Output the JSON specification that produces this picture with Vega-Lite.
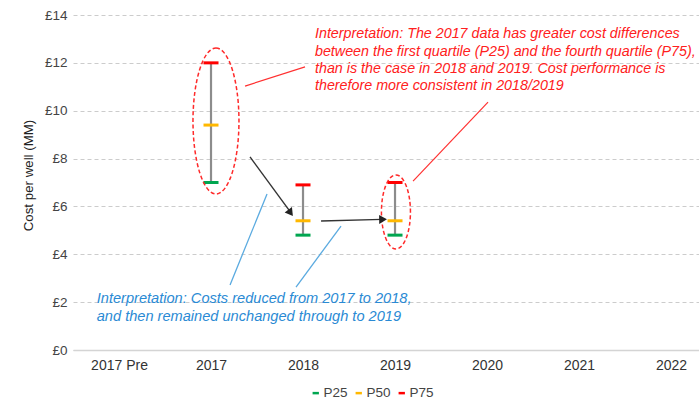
{
  "$schema": "https://vega.github.io/schema/vega-lite/v6.json",
  "autosize": "none",
  "width": 626,
  "height": 335,
  "padding": {"left": 73, "top": 15, "right": 0, "bottom": 60},
  "background": "white",
  "config": {
    "view": {"stroke": null},
    "font": "Liberation Sans"
  },
  "layer": [
    {
      "data": {"values": [
        {"idx": 1, "year": "2017", "P25": 7.0, "P50": 9.4, "P75": 12.0},
        {"idx": 2, "year": "2018", "P25": 4.8, "P50": 5.4, "P75": 6.9},
        {"idx": 3, "year": "2019", "P25": 4.8, "P50": 5.4, "P75": 7.0}
      ]},
      "mark": {"type": "rule", "color": "#8c8c8c", "strokeWidth": 2.2},
      "encoding": {
        "x": {"field": "idx", "type": "quantitative",
          "scale": {"domain": [-0.5, 6.304], "nice": false, "zero": false},
          "axis": {"values": [0, 1, 2, 3, 4, 5, 6],
            "labelExpr": "['2017 Pre','2017','2018','2019','2020','2021','2022'][datum.value]",
            "title": null, "grid": false, "ticks": false,
            "domainColor": "#d4d4d4", "domainWidth": 1.5,
            "labelFontSize": 14, "labelColor": "#333333", "labelPadding": 8,
            "labelFont": "Liberation Sans"}},
        "y": {"field": "P25", "type": "quantitative",
          "scale": {"domain": [0, 14], "nice": false, "zero": true},
          "axis": {"values": [0, 2, 4, 6, 8, 10, 12, 14],
            "labelExpr": "'£' + datum.value",
            "title": "Cost per well (MM)", "titleFontSize": 13.3, "titleFontWeight": "normal",
            "titleColor": "#222222", "titleFont": "Liberation Sans", "titleX": -38, "titleY": 160,
            "domain": false, "ticks": false,
            "grid": true, "gridColor": "#cccccc", "gridDash": [4, 3], "gridWidth": 1,
            "labelFontSize": 13.5, "labelColor": "#444444", "labelPadding": 6,
            "labelFont": "Liberation Sans"}},
        "y2": {"field": "P75"}
      }
    },
    {
      "data": {"values": [
        {"idx": 1, "year": "2017", "P25": 7.0, "P50": 9.4, "P75": 12.0},
        {"idx": 2, "year": "2018", "P25": 4.8, "P50": 5.4, "P75": 6.9},
        {"idx": 3, "year": "2019", "P25": 4.8, "P50": 5.4, "P75": 7.0}
      ]},
      "transform": [{"fold": ["P25", "P50", "P75"], "as": ["q", "v"]}],
      "mark": {"type": "rule", "strokeWidth": 3, "strokeCap": "butt", "xOffset": -7.5, "x2Offset": 7.5},
      "encoding": {
        "x": {"field": "idx", "type": "quantitative"},
        "x2": {"field": "idx"},
        "y": {"field": "v", "type": "quantitative"},
        "color": {"field": "q", "type": "nominal",
          "scale": {"domain": ["P25", "P50", "P75"], "range": ["#00a650", "#ffb800", "#ff0000"]},
          "legend": {"orient": "none", "legendX": 236, "legendY": 371, "direction": "horizontal",
            "title": null, "symbolType": "stroke", "symbolSize": 40, "symbolStrokeWidth": 2.5,
            "labelFontSize": 13.5, "labelColor": "#444444", "labelFont": "Liberation Sans",
            "columnPadding": 2, "labelOffset": 1}}
      }
    },
    {
      "data": {"values": [{"cx": 1.054, "cy": 9.57}]},
      "mark": {"type": "point", "filled": false, "color": "#ff2a2a", "strokeWidth": 1.5,
        "strokeDash": [4, 2.5], "opacity": 1, "size": 21316,
        "shape": "M0,-1A0.315,1,0,1,1,0,1A0.315,1,0,1,1,0,-1Z"},
      "encoding": {
        "x": {"field": "cx", "type": "quantitative"},
        "y": {"field": "cy", "type": "quantitative"}
      }
    },
    {
      "data": {"values": [{"cx": 3.01, "cy": 5.77}]},
      "mark": {"type": "point", "filled": false, "color": "#ff2a2a", "strokeWidth": 1.5,
        "strokeDash": [4, 2.5], "opacity": 1, "size": 5476,
        "shape": "M0,-1A0.392,1,0,1,1,0,1A0.392,1,0,1,1,0,-1Z"},
      "encoding": {
        "x": {"field": "cx", "type": "quantitative"},
        "y": {"field": "cy", "type": "quantitative"}
      }
    },
    {
      "data": {"values": [
        {"x1": 1.370, "y1": 11.03, "x2": 2.022, "y2": 11.83},
        {"x1": 3.196, "y1": 7.06, "x2": 4.011, "y2": 10.36}
      ]},
      "mark": {"type": "rule", "color": "#ff3030", "strokeWidth": 1.2},
      "encoding": {
        "x": {"field": "x1", "type": "quantitative"},
        "y": {"field": "y1", "type": "quantitative"},
        "x2": {"field": "x2"},
        "y2": {"field": "y2"}
      }
    },
    {
      "data": {"values": [
        {"x1": 1.609, "y1": 6.52, "x2": 1.207, "y2": 2.72},
        {"x1": 2.413, "y1": 5.18, "x2": 1.924, "y2": 2.63}
      ]},
      "mark": {"type": "rule", "color": "#5aaae0", "strokeWidth": 1.3},
      "encoding": {
        "x": {"field": "x1", "type": "quantitative"},
        "y": {"field": "y1", "type": "quantitative"},
        "x2": {"field": "x2"},
        "y2": {"field": "y2"}
      }
    },
    {
      "data": {"values": [
        {"x1": 1.424, "y1": 8.07, "x2": 1.86, "y2": 5.78},
        {"x1": 2.196, "y1": 5.39, "x2": 2.86, "y2": 5.46}
      ]},
      "mark": {"type": "rule", "color": "#333333", "strokeWidth": 1.4},
      "encoding": {
        "x": {"field": "x1", "type": "quantitative"},
        "y": {"field": "y1", "type": "quantitative"},
        "x2": {"field": "x2"},
        "y2": {"field": "y2"}
      }
    },
    {
      "data": {"values": [{"ax": 1.865, "ay": 5.73}]},
      "mark": {"type": "point", "shape": "triangle-up", "filled": true, "color": "#222222",
        "opacity": 1, "size": 81, "angle": 144},
      "encoding": {
        "x": {"field": "ax", "type": "quantitative"},
        "y": {"field": "ay", "type": "quantitative"}
      }
    },
    {
      "data": {"values": [{"ax": 2.870, "ay": 5.46}]},
      "mark": {"type": "point", "shape": "triangle-up", "filled": true, "color": "#222222",
        "opacity": 1, "size": 81, "angle": 89},
      "encoding": {
        "x": {"field": "ax", "type": "quantitative"},
        "y": {"field": "ay", "type": "quantitative"}
      }
    },
    {
      "data": {"values": [
        {"tx": 2.130, "ty": 13.03, "label": "Interpretation: The 2017 data has greater cost differences\nbetween the first quartile (P25) and the fourth quartile (P75),\nthan is the case in 2018 and 2019. Cost performance is\ntherefore more consistent in 2018/2019"}
      ]},
      "mark": {"type": "text", "align": "left", "baseline": "alphabetic", "lineBreak": "\n",
        "lineHeight": 17.3, "fontSize": 14.3, "fontStyle": "italic", "color": "#ff2020",
        "font": "Liberation Sans"},
      "encoding": {
        "x": {"field": "tx", "type": "quantitative"},
        "y": {"field": "ty", "type": "quantitative"},
        "text": {"field": "label", "type": "nominal"}
      }
    },
    {
      "data": {"values": [
        {"tx": -0.242, "ty": 1.95, "label": "Interpretation: Costs reduced from 2017 to 2018,\nand then remained unchanged through to 2019"}
      ]},
      "mark": {"type": "text", "align": "left", "baseline": "alphabetic", "lineBreak": "\n",
        "lineHeight": 17.3, "fontSize": 14.6, "fontStyle": "italic", "color": "#2a8ad4",
        "font": "Liberation Sans"},
      "encoding": {
        "x": {"field": "tx", "type": "quantitative"},
        "y": {"field": "ty", "type": "quantitative"},
        "text": {"field": "label", "type": "nominal"}
      }
    }
  ]
}
